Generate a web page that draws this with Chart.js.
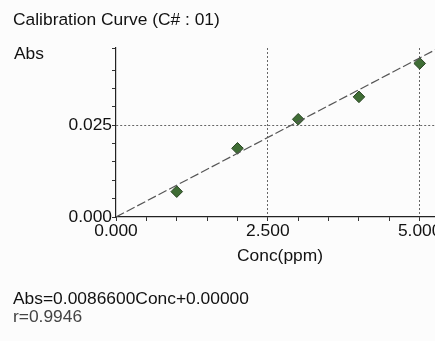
<!DOCTYPE html>
<html>
<head>
<meta charset="utf-8">
<script src="https://cdn.jsdelivr.net/npm/chart.js@4"></script>
<style>
  html, body { margin: 0; padding: 0; width: 435px; height: 341px; overflow: hidden; background: #fcfcfc; }
  #wrap { position: absolute; left: 0; top: 0; width: 460px; height: 341px; }
  .t { position: absolute; font-family: 'Liberation Sans', Arial, sans-serif; font-size: 17.4px; line-height: 20px; color: #111; white-space: nowrap; }
</style>
</head>
<body>
<div id="wrap"><canvas id="c" width="460" height="341"></canvas></div>
<div class="t" style="left:13px;top:9px;">Calibration Curve (C# : 01)</div>
<div class="t" style="left:14px;top:43px;">Abs</div>
<div class="t" style="left:13px;top:288px;">Abs=0.0086600Conc+0.00000</div>
<div class="t" style="left:13px;top:306px;color:#444;">r=0.9946</div>
<script>
// Standards (concentration, ppm) and measured absorbance
const concentrations = [1, 2, 3, 4, 5];
const absorbances = [0.0069, 0.0187, 0.0266, 0.0327, 0.0418];

// Fitted line endpoints (Abs = 0.0086600 Conc + 0.00000)
const fitConc = [0, 5.4];
const fitAbs = [0, 0.046764];

// Labelled ticks
const xTickLabels = [0, 2.5, 5];
const yTickLabels = [0, 0.025];
// Dotted reference grid lines
const xGridValues = [2.5, 5];
const yGridValues = [0.025];

const near = (a, b) => Math.abs(a - b) < 1e-9;
const fmt3 = v => v.toFixed(3);

const pts = concentrations.map((c, i) => ({ x: c, y: absorbances[i] }));
const fit = fitConc.map((c, i) => ({ x: c, y: fitAbs[i] }));

const font = { family: "'Liberation Sans', Arial, sans-serif", size: 17.4 };

new Chart(document.getElementById('c'), {
  type: 'scatter',
  data: {
    datasets: [
      {
        type: 'line',
        data: fit,
        borderColor: '#555',
        borderWidth: 1.2,
        borderDash: [9, 3],
        pointRadius: 0,
        fill: false,
        tension: 0
      },
      {
        data: pts,
        pointStyle: 'rectRot',
        pointRadius: 5.8,
        backgroundColor: '#3f6d35',
        borderColor: '#2a4524',
        borderWidth: 1
      }
    ]
  },
  options: {
    responsive: false,
    animation: false,
    events: [],
    layout: { padding: { left: 0, top: 48, right: 16, bottom: 74 } },
    plugins: { legend: { display: false }, tooltip: { enabled: false }, title: { display: false } },
    scales: {
      x: {
        type: 'linear',
        min: 0,
        max: 5.4,
        afterFit: s => { s.height = 50; },
        border: { display: true, color: '#222', width: 1.2, dash: [2, 2] },
        grid: {
          color: c => xGridValues.some(v => near(v, c.tick.value)) ? '#666' : 'transparent',
          lineWidth: 1,
          tickColor: '#333',
          tickLength: 4,
          tickBorderDash: [],
          drawTicks: true
        },
        ticks: {
          stepSize: 0.5,
          includeBounds: false,
          autoSkip: false,
          maxRotation: 0,
          padding: 0,
          color: '#111',
          font: font,
          callback: v => xTickLabels.some(t => near(t, v)) ? fmt3(v) : ''
        },
        title: {
          display: true,
          text: 'Conc(ppm)',
          color: '#111',
          font: font,
          padding: { top: 2, bottom: 0 }
        }
      },
      y: {
        type: 'linear',
        min: 0,
        max: 0.046,
        afterFit: s => { s.width = 116; },
        border: { display: true, color: '#222', width: 1.2, dash: [2, 2] },
        grid: {
          color: c => yGridValues.some(v => near(v, c.tick.value)) ? '#666' : 'transparent',
          lineWidth: 1,
          tickColor: '#333',
          tickLength: 4,
          tickBorderDash: [],
          drawTicks: true
        },
        ticks: {
          stepSize: 0.005,
          autoSkip: false,
          padding: 0,
          color: '#111',
          font: font,
          callback: v => yTickLabels.some(t => near(t, v)) ? fmt3(v) : ''
        }
      }
    }
  }
});
</script>
</body>
</html>
